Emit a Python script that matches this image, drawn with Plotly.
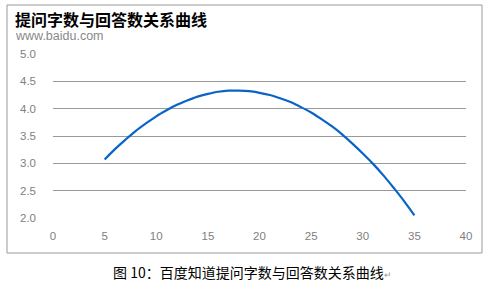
import plotly.graph_objects as go

# Data
question_length = [5, 6, 7, 8, 9, 10, 11, 12, 13, 14, 15, 16, 17, 18, 19, 20,
                   21, 22, 23, 24, 25, 26, 27, 28, 29, 30, 31, 32, 33, 34, 35]
answer_count = [3.07, 3.26, 3.43, 3.59, 3.73, 3.86, 3.97, 4.07, 4.15, 4.22, 4.27,
                4.31, 4.33, 4.33, 4.32, 4.29, 4.25, 4.19, 4.12, 4.03, 3.93, 3.81,
                3.68, 3.53, 3.36, 3.18, 2.99, 2.78, 2.55, 2.31, 2.05]
x_ticks = [0, 5, 10, 15, 20, 25, 30, 35, 40]
y_ticks = [2.0, 2.5, 3.0, 3.5, 4.0, 4.5, 5.0]
y_tick_labels = ["2.0", "2.5", "3.0", "3.5", "4.0", "4.5", "5.0"]

W, H = 490, 291
L, R, T, B = 53, 24, 54, 73
pw, ph = W - L - R, H - T - B

def px(xp):
    return (xp - L) / pw

def py(yp):
    return (H - B - yp) / ph

fig = go.Figure()
fig.add_trace(go.Scatter(
    x=question_length, y=answer_count, mode="lines",
    line=dict(color="#0a64c8", width=2.2, shape="spline"),
    hoverinfo="skip", showlegend=False,
))

tick_font = dict(family="Liberation Sans", size=11.5, color="#808080")
fig.update_layout(
    width=W, height=H,
    margin=dict(l=L, r=R, t=T, b=B),
    paper_bgcolor="white", plot_bgcolor="white",
    xaxis=dict(range=[0, 40], tickvals=x_ticks, showgrid=False, zeroline=False,
               showline=False, ticks="", tickfont=tick_font, ticklabelstandoff=9,
               fixedrange=True),
    yaxis=dict(range=[2, 5], tickvals=y_ticks, ticktext=y_tick_labels,
               showgrid=True, gridcolor="#999999", gridwidth=1, zeroline=False,
               showline=False, ticks="", tickfont=tick_font, ticklabelstandoff=16,
               fixedrange=True),
    shapes=[dict(type="rect", xref="paper", yref="paper",
                 x0=px(7), x1=px(482), y0=py(253), y1=py(5),
                 line=dict(color="#999999", width=1))],
    annotations=[
        dict(text="<b>提问字数与回答数关系曲线</b>", xref="paper", yref="paper",
             x=px(13), y=py(7), xanchor="left", yanchor="top", showarrow=False,
             height=19, valign="middle",
             font=dict(family="Noto Sans CJK SC", size=16, color="black")),
        dict(text="www.baidu.com", xref="paper", yref="paper",
             x=px(13), y=py(27), xanchor="left", yanchor="top", showarrow=False,
             height=14, valign="middle",
             font=dict(family="Liberation Sans", size=12.5, color="#888888")),
        dict(text="图 10：百度知道提问字数与回答数关系曲线<span style='color:#999999;font-size:9px'>↵</span>",
             xref="paper", yref="paper",
             x=px(111), y=py(272), xanchor="left", yanchor="middle", showarrow=False,
             font=dict(family="Noto Sans CJK SC", size=14, color="black")),
    ],
)

fig.write_html("out.html")
